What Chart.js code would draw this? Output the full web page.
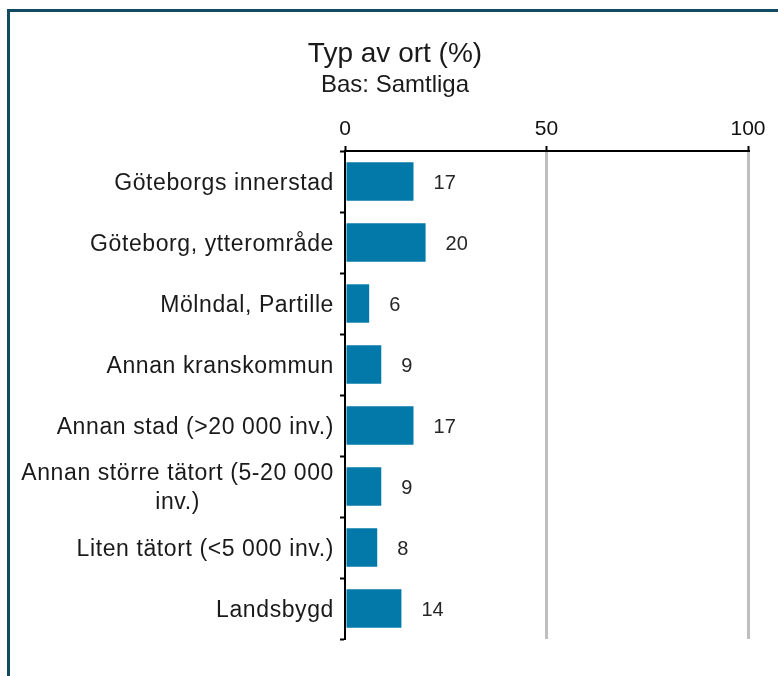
<!DOCTYPE html>
<html>
<head>
<meta charset="utf-8">
<script src="https://cdn.jsdelivr.net/npm/chart.js@4/dist/chart.umd.min.js"></script>
<style>
  html, body { margin: 0; padding: 0; background: #ffffff; overflow: hidden; }
  #frame { position: absolute; left: 7px; top: 9px; width: 900px; height: 900px;
           border-left: 3px solid #124a62; border-top: 3px solid #124a62; box-sizing: border-box; }
  #c { position: absolute; left: 0; top: 0; }
</style>
</head>
<body>
<div id="frame"></div>
<canvas id="c" width="778" height="676"></canvas>
<script>
const titleText = "Typ av ort (%)";
const subtitleText = "Bas: Samtliga";
const categories = [
  "Göteborgs innerstad",
  "Göteborg, ytterområde",
  "Mölndal, Partille",
  "Annan kranskommun",
  "Annan stad (>20 000 inv.)",
  "Annan större tätort (5-20 000\ninv.)",
  "Liten tätort (<5 000 inv.)",
  "Landsbygd"
];
const values = [17, 20, 6, 9, 17, 9, 8, 14];
const axisMin = 0, axisMax = 100, axisStep = 50;

const FONT = "'Liberation Sans', Arial, sans-serif";

const labelPlugin = {
  id: 'customLabels',
  afterDraw(chart) {
    const ctx = chart.ctx;
    const ys = chart.scales.y, xs = chart.scales.x;
    ctx.save();
    // category labels
    const cs = 23;
    ctx.font = cs + "px " + FONT;
    if ('letterSpacing' in ctx) ctx.letterSpacing = "0.6px";
    ctx.fillStyle = "#1a1a1a";
    ctx.textBaseline = "alphabetic";
    const rightX = 334;
    const lh = 29;
    categories.forEach((lab, i) => {
      const cy = ys.getPixelForValue(i);
      const lines = lab.split("\n");
      const n = lines.length;
      const firstBase = cy + cs * 0.36 - (n - 1) * lh / 2;
      if (n === 1) {
        ctx.textAlign = "right";
        ctx.fillText(lines[0], rightX, firstBase);
      } else {
        const maxW = Math.max(...lines.map(l => ctx.measureText(l).width));
        const cx = rightX - maxW / 2;
        ctx.textAlign = "center";
        lines.forEach((l, k) => ctx.fillText(l, cx, firstBase + k * lh));
      }
    });
    // value labels
    const vs = 20;
    ctx.font = vs + "px " + FONT;
    if ('letterSpacing' in ctx) ctx.letterSpacing = "0px";
    ctx.fillStyle = "#262626";
    ctx.textAlign = "left";
    values.forEach((v, i) => {
      const cy = ys.getPixelForValue(i);
      ctx.fillText(String(v), xs.getPixelForValue(v) + 20, cy + vs * 0.36);
    });
    ctx.restore();
  }
};

new Chart(document.getElementById('c'), {
  type: 'bar',
  data: {
    labels: categories,
    datasets: [{
      data: values,
      backgroundColor: '#0379a9',
      borderWidth: 0,
      categoryPercentage: 0.63,
      barPercentage: 1.0
    }]
  },
  plugins: [labelPlugin],
  options: {
    indexAxis: 'y',
    responsive: false,
    animation: false,
    layout: { padding: { left: 42, right: 30, top: 0, bottom: 37 } },
    plugins: {
      legend: { display: false },
      tooltip: { enabled: false },
      title: {
        display: true, text: titleText, color: '#1a1a1a',
        font: { family: FONT, size: 28, weight: 'normal', lineHeight: 1.2 },
        padding: { top: 37, bottom: 0 }
      },
      subtitle: {
        display: true, text: subtitleText, color: '#1a1a1a',
        font: { family: FONT, size: 24, weight: 'normal', lineHeight: 1.2 },
        padding: { top: 0, bottom: 0 }
      }
    },
    scales: {
      x: {
        position: 'top', min: axisMin, max: axisMax,
        ticks: { stepSize: axisStep, color: '#111', padding: 4,
                 font: { family: FONT, size: 21 } },
        grid: {
          color: (c) => (c.tick && c.tick.value === 0) ? 'rgba(0,0,0,0)' : '#bfbfbf',
          lineWidth: 3, tickLength: 5, tickColor: '#000', tickWidth: 2, drawTicks: true
        },
        border: { color: '#000', width: 2 },
        afterFit: (s) => { s.height = 51.6; }
      },
      y: {
        type: 'category', offset: true,
        ticks: { display: false },
        grid: { drawOnChartArea: false, drawTicks: true, tickLength: 5,
                tickColor: '#000', tickWidth: 2, offset: true },
        border: { color: '#000', width: 2 },
        afterFit: (s) => { s.width = 303; }
      }
    }
  }
});
</script>
</body>
</html>
